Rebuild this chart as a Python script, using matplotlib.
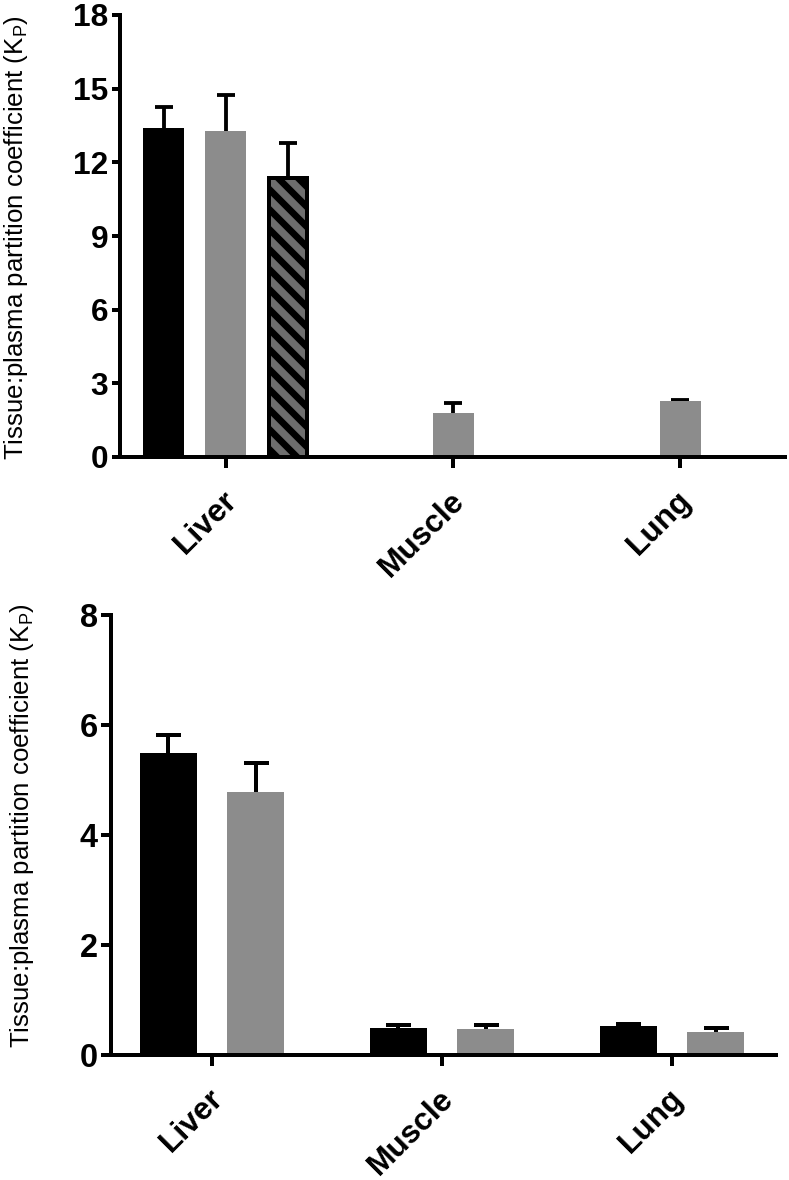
import numpy as np
import matplotlib
matplotlib.use('Agg')
import matplotlib.pyplot as plt
from matplotlib.transforms import ScaledTranslation

plt.rcParams['font.family'] = ['Liberation Sans', 'DejaVu Sans']
plt.rcParams['mathtext.default'] = 'regular'
plt.rcParams['hatch.linewidth'] = 4.0

tissues = ['Liver', 'Muscle', 'Lung']

# top panel
top_black = [13.4, np.nan, np.nan]
top_black_err = [0.85, np.nan, np.nan]
top_gray = [13.27, 1.79, 2.28]
top_gray_err = [1.47, 0.41, 0.06]
top_hatch = [11.36, np.nan, np.nan]
top_hatch_err = [1.43, np.nan, np.nan]
top_yticks = [0, 3, 6, 9, 12, 15, 18]

# bottom panel
bot_black = [5.5, 0.49, 0.52]
bot_black_err = [0.31, 0.06, 0.05]
bot_gray = [4.78, 0.47, 0.42]
bot_gray_err = [0.53, 0.07, 0.07]
bot_yticks = [0, 2, 4, 6, 8]

BLACK = '#000000'
GRAY = '#8c8c8c'
DARK = '#6e6e6e'
W, H = 789, 1180
DPI = 120

ylabel = 'Tissue:plasma partition coefficient (K$_{P}$)'


def style_axes(ax, tick_size, ylen):
    for side in ['top', 'right']:
        ax.spines[side].set_visible(False)
    for side in ['left', 'bottom']:
        ax.spines[side].set_linewidth(2.4)
    ax.tick_params(axis='y', width=2.4, length=ylen, labelsize=tick_size, pad=2)
    ax.tick_params(axis='x', width=2.4, length=6.5, pad=17)
    for lab in ax.get_yticklabels():
        lab.set_fontweight('bold')
    ax.set_xticks(np.arange(len(tissues)))
    ax.set_xticklabels(tissues, rotation=45, ha='right', va='center',
                       rotation_mode='anchor', fontsize=19, fontweight='bold')
    shift = ScaledTranslation(4 / 72, 0, ax.figure.dpi_scale_trans)
    for lab in ax.get_xticklabels():
        lab.set_transform(lab.get_transform() + shift)


def draw_bars(ax, x, vals, errs, width, cap, lw, **kw):
    ax.bar(x, vals, width, zorder=2, **kw)
    eb = ax.errorbar(x, vals, yerr=[np.zeros(len(vals)), errs], fmt='none',
                     ecolor='black', elinewidth=lw, capsize=cap, capthick=lw,
                     zorder=1)
    # only the upper cap is shown
    eb[1][0].set_visible(False)


fig = plt.figure(figsize=(W / DPI, H / DPI), dpi=DPI)
x = np.arange(len(tissues))

# top chart
ax1 = fig.add_axes([120 / W, 1 - 457 / H, 665 / W, 442 / H])
draw_bars(ax1, x - 0.273, top_black, top_black_err, 0.18, 5.5, 2.3,
          color=BLACK)
draw_bars(ax1, x, top_gray, top_gray_err, 0.18, 5.5, 2.3, color=GRAY)
draw_bars(ax1, x + 0.273, top_hatch, top_hatch_err, 0.165, 5.5, 2.3,
          facecolor=DARK, edgecolor='black', linewidth=2.4, hatch='\\\\')
ax1.set_xlim(-0.465, 2.46)
ax1.set_ylim(0, 18)
ax1.set_yticks(top_yticks)
style_axes(ax1, 19, 5)

# bottom chart
ax2 = fig.add_axes([111 / W, 1 - 1055 / H, 665 / W, 440 / H])
draw_bars(ax2, x - 0.19, bot_black, bot_black_err, 0.248, 7.5, 2.4,
          color=BLACK)
draw_bars(ax2, x + 0.19, bot_gray, bot_gray_err, 0.248, 7.5, 2.4,
          color=GRAY)
ax2.set_xlim(-0.44, 2.452)
ax2.set_ylim(0, 8)
ax2.set_yticks(bot_yticks)
style_axes(ax2, 19.5, 6)

fig.text(16 / W, 1 - 238 / H, ylabel, rotation=90, ha='center',
         va='center', fontsize=15.5)
fig.text(22 / W, 1 - 826 / H, ylabel, rotation=90, ha='center',
         va='center', fontsize=15.5)

fig.savefig('out.png', dpi=DPI)
